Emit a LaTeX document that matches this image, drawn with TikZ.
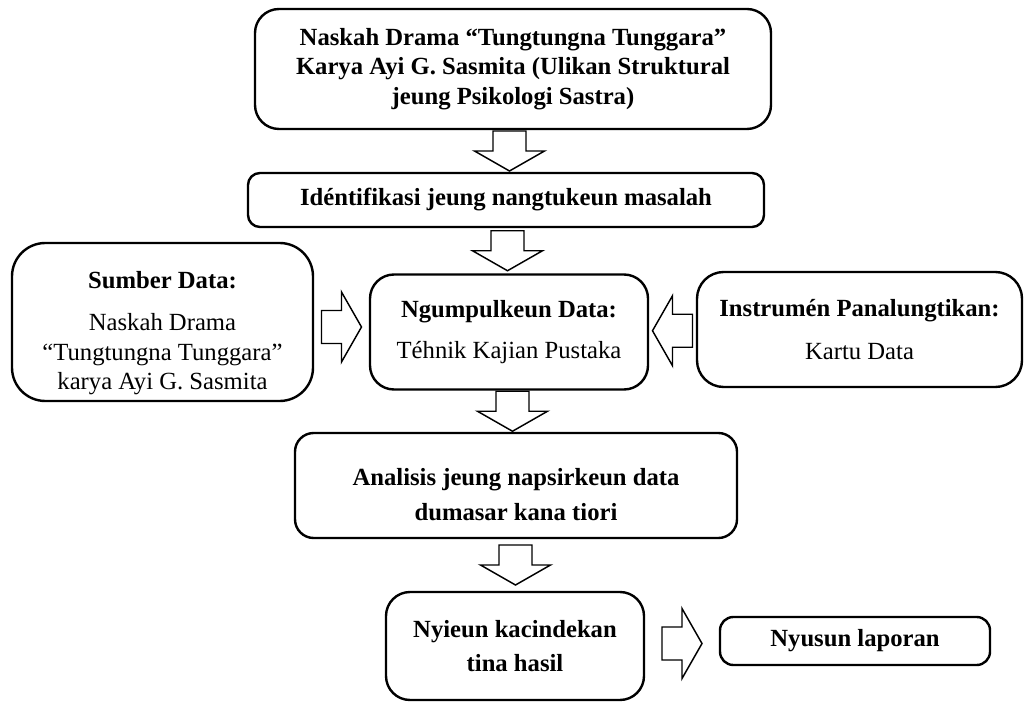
\documentclass[tikz,border=0pt]{standalone}
\usepackage{fontspec}
\setmainfont{Liberation Serif}
\usetikzlibrary{calc}

\newcommand{\pxu}{0.75pt}

\tikzset{
  box/.style={draw,line width=1.8pt,align=center,inner sep=0pt,
    font=\fontsize{18.5}{22}\selectfont\bfseries},
  fat/.pic={\draw[line width=1.1pt,fill=white] (-20,-16.5) -- (0,-16.5) -- (0,-35)
    -- (20,0) -- (0,35) -- (0,16.5) -- (-20,16.5) -- cycle;}
}

\begin{document}
\begin{tikzpicture}[x=0.75pt,y=-0.75pt]
\useasboundingbox (0,0) rectangle (1027,705);
\node[box,rounded corners=18pt,minimum width=516*\pxu,minimum height=120*\pxu] (naskah) at (513,69)
  {Naskah Drama “Tungtungna Tunggara”\\Karya Ayi G. Sasmita (Ulikan Struktural\\jeung Psikologi Sastra)};
\node[box,rounded corners=9pt,minimum width=516*\pxu,minimum height=54*\pxu] (ident) at (506,200)
  {Idéntifikasi jeung nangtukeun masalah};
\node[box,rounded corners=25pt,minimum width=301*\pxu,minimum height=158*\pxu] (sumber) at (162.5,322)
  {\rule{0pt}{29pt}Sumber Data:\\[10pt]\mdseries Naskah Drama\\\mdseries “Tungtungna Tunggara”\\\mdseries karya Ayi G. Sasmita};
\node[box,rounded corners=18pt,minimum width=278*\pxu,minimum height=115*\pxu] (ngumpul) at (509,332)
  {Ngumpulkeun Data:\\[9pt]\mdseries Téhnik Kajian Pustaka};
\node[box,rounded corners=20pt,minimum width=325*\pxu,minimum height=115*\pxu] (instr) at (859.5,329.5)
  {Instrumén Panalungtikan:\\[10pt]\mdseries Kartu Data};
\node[box,rounded corners=14pt,minimum width=442*\pxu,minimum height=105*\pxu] (analisis) at (516,485.5)
  {\rule{0pt}{26pt}Analisis jeung napsirkeun data\\[4pt]dumasar kana tiori};
\node[box,rounded corners=18pt,minimum width=258*\pxu,minimum height=108*\pxu] (nyieun) at (515,646)
  {Nyieun kacindekan\\[4pt]tina hasil};
\node[box,rounded corners=10pt,minimum width=270*\pxu,minimum height=48*\pxu] (nyusun) at (855,641)
  {Nyusun laporan};
% block arrows
\pic[rotate=-90] at ($(naskah.south)!0.5!(ident.north)$) {fat};
\pic[rotate=-90] at ($(ident.south)!0.5!(ngumpul.north)$) {fat};
\pic at ($(sumber.east)!0.5!(ngumpul.west)$) {fat};
\pic[rotate=180] at ($(instr.west)!0.5!(ngumpul.east)$) {fat};
\pic[rotate=-90] at ($(ngumpul.south)!0.5!(analisis.north)$) {fat};
\pic[rotate=-90] at ($(analisis.south)!0.5!(nyieun.north)$) {fat};
\pic at ($(nyieun.east)!0.5!(nyusun.west)$) {fat};
\end{tikzpicture}
\end{document}
